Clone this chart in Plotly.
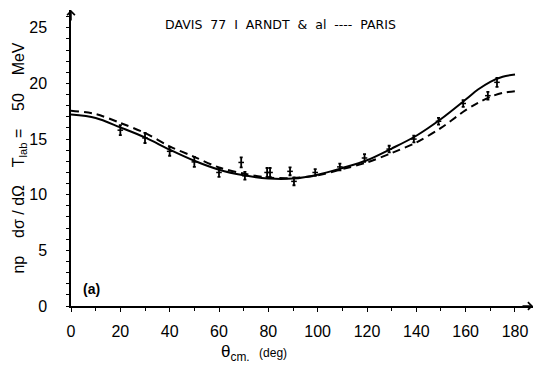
import plotly.graph_objects as go

# Curves (theory), sampled along the angle
theta_curve = [0, 10, 20, 30, 40, 50, 60, 70, 80, 90, 100, 110, 120, 130, 140, 150, 160, 165, 170, 175, 180]
arndt = [17.2, 16.9, 16.05, 15.15, 14.05, 13.05, 12.25, 11.75, 11.45, 11.45, 11.8, 12.4, 13.1, 14.15, 15.3, 16.8, 18.55, 19.45, 20.15, 20.6, 20.8]
paris = [17.55, 17.25, 16.45, 15.55, 14.35, 13.4, 12.45, 11.9, 11.55, 11.5, 11.75, 12.3, 12.9, 13.75, 14.7, 16.0, 17.6, 18.25, 18.8, 19.15, 19.3]

# Data points (Davis 77)
theta_data = [20, 30, 40, 50, 60, 69, 70.5, 79.5, 80.7, 88.8, 90.4, 99, 109, 119, 129, 139, 149, 159, 169, 172.7]
xs_data = [15.8, 15.1, 13.9, 12.95, 12.0, 12.9, 11.7, 12.0, 12.0, 12.1, 11.2, 12.0, 12.5, 13.3, 14.1, 15.0, 16.6, 18.2, 18.9, 20.1]
err_data = [0.45, 0.45, 0.4, 0.45, 0.4, 0.45, 0.35, 0.4, 0.4, 0.35, 0.35, 0.3, 0.3, 0.35, 0.3, 0.3, 0.3, 0.3, 0.35, 0.4]

x_ticks = [0, 20, 40, 60, 80, 100, 120, 140, 160, 180]
y_ticks = [0, 5, 10, 15, 20, 25]

fig = go.Figure()
fig.add_trace(go.Scatter(x=theta_curve, y=paris, mode="lines", line=dict(color="black", width=2, dash="8px,5px", shape="spline", smoothing=0.9), hoverinfo="skip"))
fig.add_trace(go.Scatter(x=theta_curve, y=arndt, mode="lines", line=dict(color="black", width=2, shape="spline", smoothing=0.9), hoverinfo="skip"))
fig.add_trace(go.Scatter(x=theta_data, y=xs_data, mode="markers",
                         marker=dict(symbol="line-ew", size=4, line=dict(color="black", width=1.5)),
                         error_y=dict(type="data", array=err_data, color="black", thickness=1.8, width=1.5)))

font = "Liberation Sans"
fig.update_layout(
    width=537, height=371,
    margin=dict(l=71, r=4, t=10, b=65),
    paper_bgcolor="white", plot_bgcolor="white",
    showlegend=False,
    font=dict(family=font, color="black"),
    xaxis=dict(range=[0, 187.3], tickvals=x_ticks, showgrid=False, zeroline=False,
               showline=True, linecolor="black", linewidth=1.5,
               ticks="outside", ticklen=4, tickcolor="black",
               minor=dict(dtick=10, tick0=0, ticks="outside", ticklen=3, tickcolor="black"),
               tickfont=dict(size=16, family=font), ticklabelstandoff=6),
    yaxis=dict(range=[0, 26.6], tickvals=y_ticks, showgrid=False, zeroline=False,
               showline=True, linecolor="black", linewidth=1.5,
               ticks="outside", ticklen=3, tickcolor="black",
               minor=dict(dtick=1, tick0=0, ticks="outside", ticklen=3, tickcolor="black"),
               tickfont=dict(size=16, family=font), ticklabelstandoff=16,
               title=dict(text="np    dσ / dΩ    T<sub>lab</sub> =    50    MeV", font=dict(size=16), standoff=0)),
)

# x-axis title
fig.add_annotation(x=0.396, y=-0.16, xref="paper", yref="paper", xanchor="center", yanchor="middle",
                   text="θ<sub>cm.</sub>  <span style='font-size:12px'>(deg)</span>",
                   showarrow=False, font=dict(size=17, family=font))
fig.add_annotation(x=85, y=25.3, xref="x", yref="y", text="DAVIS  77  I  ARNDT  &  al  ----  PARIS",
                   showarrow=False, font=dict(size=12.5, family="DejaVu Sans"))
fig.add_annotation(x=8.5, y=1.5, xref="x", yref="y", text="<b>(a)</b>", showarrow=False, font=dict(size=14))
# axis arrows
fig.add_annotation(x=1, y=0, xref="paper", yref="paper", ax=-12, ay=0, text="", showarrow=True,
                   arrowhead=4, arrowsize=1, arrowwidth=1.5, arrowcolor="black")
fig.add_annotation(x=0, y=1, xref="paper", yref="paper", ax=0, ay=12, text="", showarrow=True,
                   arrowhead=4, arrowsize=1, arrowwidth=1.5, arrowcolor="black")

fig.write_html("out.html")
